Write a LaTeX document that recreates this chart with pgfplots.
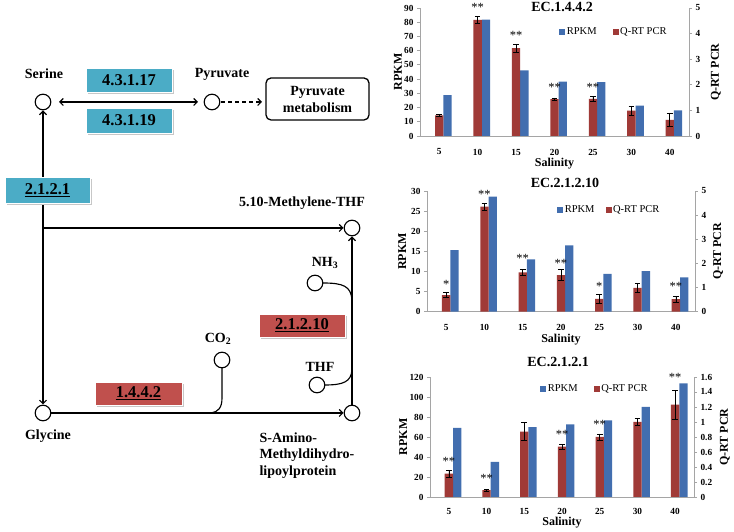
\documentclass[border=0pt]{standalone}
\usepackage{fontspec}
\setmainfont{Liberation Serif}
\usepackage{pgfplots}
\pgfplotsset{compat=1.18}
\usepackage{pgfplotstable}
\usetikzlibrary{arrows.meta}
\definecolor{rpkm}{RGB}{66,110,175}
\definecolor{qrt}{RGB}{160,58,55}
\definecolor{tealbox}{RGB}{75,172,198}
\definecolor{redbox}{RGB}{192,80,77}
\definecolor{axgray}{RGB}{165,165,165}

\pgfplotstableread{
x rpkm q qe
0 28.8 0.81 0.04
1 81.8 4.54 0.13
2 46.1 3.43 0.15
3 38.3 1.44 0.05
4 37.8 1.45 0.10
5 21.4 0.99 0.17
6 18.1 0.63 0.27
}\dataA
\pgfplotstableread{
x rpkm q qe
0 15.3 0.69 0.10
1 28.6 4.35 0.15
2 13.0 1.63 0.13
3 16.5 1.52 0.24
4 9.4 0.53 0.19
5 10.1 0.99 0.17
6 8.5 0.52 0.12
}\dataB
\pgfplotstableread{
x rpkm q qe
0 69.2 0.31 0.05
1 35.1 0.09 0.01
2 69.8 0.87 0.12
3 72.5 0.67 0.03
4 76.5 0.80 0.04
5 90.2 1.00 0.05
6 113.6 1.23 0.19
}\dataC

\tikzset{sig/.style={font=\fontsize{12.5}{14}\selectfont, yshift=-2.2pt, inner sep=0pt}}
\pgfplotsset{
  chartbase/.style={
    scale only axis, anchor=south west,
    xmin=-0.5, xmax=6.5, ymin=0,
    clip=false,
    axis line style={axgray, line width=0.8pt},
    tick align=outside, major tick length=3pt,
    ytick style={axgray, line width=0.8pt},
    xtick style={draw=none},
    ticklabel style={font=\bfseries\fontsize{9.3}{10}\selectfont},
    /pgf/number format/assume math mode=true,
    label style={font=\bfseries\fontsize{12}{14}\selectfont},
    title style={font=\bfseries\fontsize{14}{16}\selectfont, anchor=center},
    legend style={draw=none, fill=none, inner sep=0pt, legend columns=2,
      font=\fontsize{10.5}{12}\selectfont, anchor=west},
    legend cell align=left,
  },
  bluebars/.style={ybar, bar width=8.3pt, bar shift=8.3pt, fill=rpkm, draw=none},
  redbars/.style={ybar, bar width=8.3pt, bar shift=0pt, fill=qrt, draw=none,
     error bars/y dir=both, error bars/y explicit,
     error bars/error bar style={black, line width=0.6pt},
     error bars/error mark options={rotate=90, mark size=2.8pt, black, line width=0.6pt}},
  sqblue/.style={legend image code/.code={\fill[rpkm] (0pt,-2.6pt) rectangle (5.2pt,2.6pt);}},
  sqred/.style={legend image code/.code={\fill[qrt] (0pt,-2.6pt) rectangle (5.2pt,2.6pt);}},
}

\begin{document}
\begin{tikzpicture}
\useasboundingbox (0,0) rectangle (734pt,532pt);

% ================= pathway diagram =================
\begin{scope}[x=1pt,y=1pt, line width=1.15pt, >={Straight Barb[length=3.5pt,width=7pt]}]
\draw[<->] (59,430) -- (198,430);
\draw[->, dash pattern=on 4pt off 3pt] (221,430) -- (262,430);
\draw[<->] (43,421.5) -- (43,127.5);
\draw[->] (43,304) -- (343.5,304);
\draw[->] (50,119) -- (343.5,119);
\draw[->] (352,127) -- (352,295.5);
\draw (222,164) -- (222,134) .. controls (222,124) and (218,120) .. (211,119);
\draw (322.8,249) .. controls (343,249) and (351,246) .. (352,232);
\draw (324.8,147) .. controls (343,147) and (351,150) .. (352,162);
\foreach \p in {(43,430),(212,430),(352,304),(43,119),(352,119),(222,172),(315,249),(317,147)}
  \draw[fill=white] \p circle (7.8);

\tikzset{lab/.style={font=\bfseries\fontsize{14}{17}\selectfont, inner sep=0pt}}
\node[lab] at (44,458) {Serine};
\node[lab] at (222,458) {Pyruvate};
\node[lab] at (302,329) {5.10-Methylene-THF};
\node[lab] at (48,96) {Glycine};
\node[lab] at (218,193) {CO\textsubscript{2}};
\node[lab] at (325,269) {NH\textsubscript{3}};
\node[lab] at (320,165) {THF};
\node[lab, anchor=west] at (259,94) {S-Amino-};
\node[lab, anchor=west] at (259,77) {Methyldihydro-};
\node[lab, anchor=west] at (259,60) {lipoylprotein};
\node[lab, draw, rounded corners=5pt, line width=1.3pt, minimum width=103pt,
      minimum height=42pt, align=center] at (317.5,433) {Pyruvate\\metabolism};

\tikzset{ec/.style={font=\bfseries\fontsize{16.5}{18}\selectfont, inner sep=0pt}}
% 4.3.1.17
\fill[black!22] (88,438) rectangle (174,462);
\draw[white, line width=0.8pt, fill=tealbox] (86,440) rectangle (172,464);
\node[ec] at (129,452) {4.3.1.17};
% 4.3.1.19
\fill[black!22] (88,397) rectangle (174,422);
\draw[white, line width=0.8pt, fill=tealbox] (86,399) rectangle (172,424);
\node[ec] at (129,411.5) {4.3.1.19};
% 2.1.2.1
\fill[black!22] (7,327) rectangle (92,353);
\draw[white, line width=0.8pt, fill=tealbox] (5,329) rectangle (90,355);
\node[ec] at (47.5,342) {\underline{2.1.2.1}};
% 1.4.4.2
\fill[black!22] (97,125) rectangle (184,148);
\draw[white, line width=0.8pt, fill=redbox] (95,127) rectangle (182,150);
\node[ec] at (138.5,138.5) {\underline{1.4.4.2}};
% 2.1.2.10
\fill[black!22] (261,193) rectangle (347,216);
\draw[white, line width=0.8pt, fill=redbox] (259,195) rectangle (345,218);
\node[ec] at (302,206.5) {\underline{2.1.2.10}};
\end{scope}

% ================= chart 1: EC.1.4.4.2 =================
\begin{axis}[chartbase, at={(420pt,396pt)}, width=269pt, height=128pt,
  ymax=90, ytick={0,10,...,90}, axis y line*=left, axis x line*=bottom,
  xtick={0,...,6}, xticklabels={5,10,15,20,25,30,40},
  xticklabel style={anchor=center, yshift=-13pt},
  xlabel={Salinity}, xlabel style={at={(axis description cs:0.5,-0.219)}, anchor=center},
  ylabel={RPKM}, ylabel style={at={(axis description cs:-0.082,0.5)}, anchor=center}]
\addplot[bluebars] table[x=x,y=rpkm]{\dataA};
\end{axis}
\begin{axis}[chartbase, at={(420pt,396pt)}, width=269pt, height=128pt,
  ymax=5, ytick={0,...,5}, axis y line*=right, axis x line=none,
  ylabel={Q-RT PCR}, ylabel style={at={(axis description cs:1.100,0.5)}, anchor=center},
  title={EC.1.4.4.2}, title style={at={(axis description cs:0.528,0.961)}},
  legend style={at={(axis description cs:0.517,0.8125)}, /tikz/every even column/.append style={column sep=14pt}}]
\addlegendimage{sqblue}\addlegendentry{RPKM}
\addlegendimage{sqred}\addlegendentry{Q-RT PCR}
\addplot[forget plot, redbars] table[x=x,y=q,y error=qe]{\dataA};
\node[sig] at (axis cs:1,5.1) {**};
\node[sig] at (axis cs:2,4.02) {**};
\node[sig] at (axis cs:3,2.0) {**};
\node[sig] at (axis cs:4,2.0) {**};
\end{axis}

% ================= chart 2: EC.2.1.2.10 =================
\begin{axis}[chartbase, at={(427pt,220.3pt)}, width=268pt, height=120.7pt,
  ymax=30, ytick={0,5,...,30}, axis y line*=left, axis x line*=bottom,
  xtick={0,...,6}, xticklabels={5,10,15,20,25,30,40},
  xticklabel style={anchor=center, yshift=-12.5pt},
  xlabel={Salinity}, xlabel style={at={(axis description cs:0.5,-0.228)}, anchor=center},
  ylabel={RPKM}, ylabel style={at={(axis description cs:-0.093,0.5)}, anchor=center}]
\addplot[bluebars] table[x=x,y=rpkm]{\dataB};
\end{axis}
\begin{axis}[chartbase, at={(427pt,220.3pt)}, width=268pt, height=120.7pt,
  ymax=5, ytick={0,...,5}, axis y line*=right, axis x line=none,
  ylabel={Q-RT PCR}, ylabel style={at={(axis description cs:1.086,0.5)}, anchor=center},
  title={EC.2.1.2.10}, title style={at={(axis description cs:0.515,1.017)}},
  legend style={at={(axis description cs:0.485,0.848)}, /tikz/every even column/.append style={column sep=9pt}}]
\addlegendimage{sqblue}\addlegendentry{RPKM}
\addlegendimage{sqred}\addlegendentry{Q-RT PCR}
\addplot[forget plot, redbars] table[x=x,y=q,y error=qe]{\dataB};
\node[sig] at (axis cs:0,1.24) {*};
\node[sig] at (axis cs:1,4.97) {**};
\node[sig] at (axis cs:2,2.28) {**};
\node[sig] at (axis cs:3,2.1) {**};
\node[sig] at (axis cs:4,1.13) {*};
\node[sig] at (axis cs:6,1.15) {**};
\end{axis}

% ================= chart 3: EC.2.1.2.1 =================
\begin{axis}[chartbase, at={(430pt,35pt)}, width=264pt, height=120pt,
  ymax=120, ytick={0,20,...,120}, axis y line*=left, axis x line*=bottom,
  xtick={0,...,6}, xticklabels={5,10,15,20,25,30,40},
  xticklabel style={anchor=center, yshift=-11.5pt, inner sep=0.5pt},
  xlabel={Salinity}, xlabel style={at={(axis description cs:0.5,-0.213)}, anchor=center, inner sep=0.5pt},
  ylabel={RPKM}, ylabel style={at={(axis description cs:-0.102,0.5)}, anchor=center}]
\addplot[bluebars] table[x=x,y=rpkm]{\dataC};
\end{axis}
\begin{axis}[chartbase, at={(430pt,35pt)}, width=264pt, height=120pt,
  ymax=1.6, ytick={0,0.2,0.4,0.6,0.8,1,1.2,1.4,1.6}, axis y line*=right, axis x line=none,
  ylabel={Q-RT PCR}, ylabel style={at={(axis description cs:1.117,0.5)}, anchor=center},
  title={EC.2.1.2.1}, title style={at={(axis description cs:0.485,1.073)}},
  legend style={at={(axis description cs:0.417,0.903)}, /tikz/every even column/.append style={column sep=14pt}}]
\addlegendimage{sqblue}\addlegendentry{RPKM}
\addlegendimage{sqred}\addlegendentry{Q-RT PCR}
\addplot[forget plot, redbars] table[x=x,y=q,y error=qe]{\dataC};
\node[sig] at (axis cs:0,0.51) {**};
\node[sig] at (axis cs:1,0.28) {**};
\node[sig] at (axis cs:3,0.87) {**};
\node[sig] at (axis cs:4,1.0) {**};
\node[sig] at (axis cs:6,1.63) {**};
\end{axis}
\end{tikzpicture}
\end{document}
